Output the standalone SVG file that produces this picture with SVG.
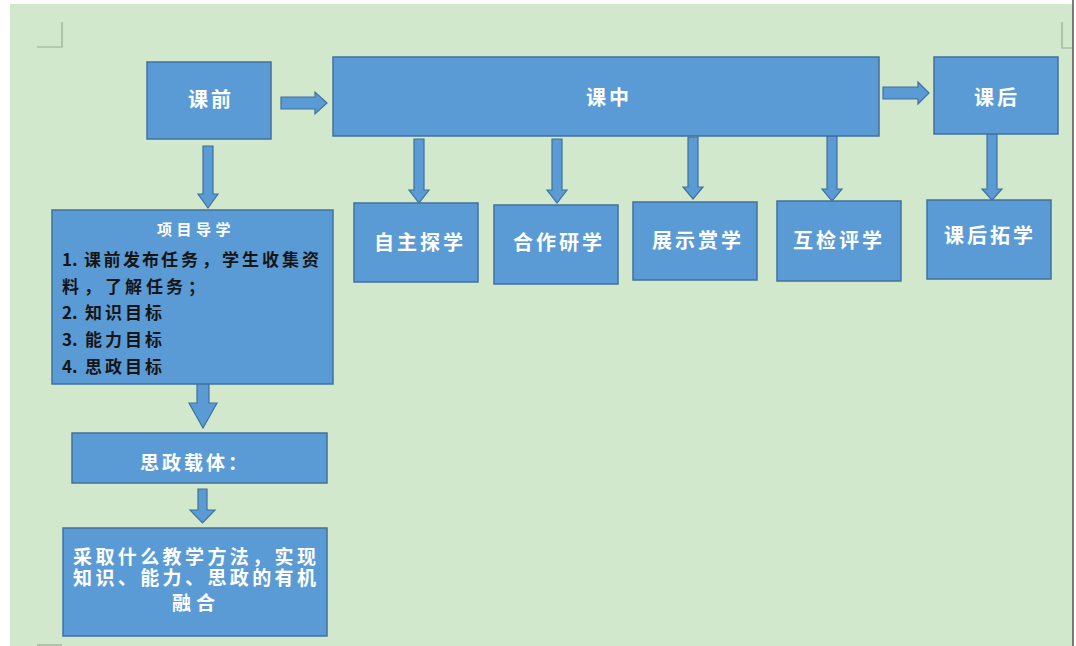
<svg xmlns="http://www.w3.org/2000/svg" width="1076" height="646" viewBox="0 0 1076 646">
<style>
.box{fill:#5b9bd5;stroke:#41719c;stroke-width:1.5}
.arr{fill:#5b9bd5;stroke:#41719c;stroke-width:1.2;stroke-linejoin:miter}
.lbl{font-family:"Noto Sans CJK SC","Noto Sans",sans-serif;font-weight:bold;fill:#ffffff;text-anchor:middle;font-size:20px;letter-spacing:3px}
.blk{font-family:"Noto Sans CJK SC","Noto Sans",sans-serif;font-weight:bold;fill:#151515;font-size:17px}
.wl{font-family:"Noto Sans CJK SC","Noto Sans",sans-serif;font-weight:bold;fill:#ffffff;font-size:19px}
.mark{stroke:#9aab98;stroke-width:1.2;fill:none}
</style>
<rect x="0" y="0" width="1076" height="646" fill="#ffffff"/>
<rect x="10" y="4" width="1063" height="642" fill="#d1e8cc"/>
<line x1="1073" y1="0" x2="1073" y2="646" stroke="#555" stroke-width="1.5"/>
<path class="mark" d="M37 47 H62 V22"/>
<path class="mark" d="M1062 22 V48 H1072"/>
<path class="mark" d="M37 645 H62"/>

<g id="connectors">
<polygon class="arr" points="281,97 315,97 315,92 327,103 315,114 315,109 281,109"/>
<polygon class="arr" points="883,87 918,87 918,82 929,93 918,104 918,99 883,99"/>
<polygon class="arr" points="203,146 213,146 213,194 218,194 208,208 198,194 203,194"/>
<polygon class="arr" points="414,139 424,139 424,190 429,190 419,203 409,190 414,190"/>
<polygon class="arr" points="552,139 562,139 562,190 567,190 557,203 547,190 552,190"/>
<polygon class="arr" points="688,137 698,137 698,187 703,187 693,199 683,187 688,187"/>
<polygon class="arr" points="827,136 837,136 837,189 842,189 832,201 822,189 827,189"/>
<polygon class="arr" points="987,134 997,134 997,189 1002,189 992,200 982,189 987,189"/>
<polygon class="arr" points="197,372 209,372 209,403 217,403 203,428 189,403 197,403"/>
<polygon class="arr" points="198,489 207,489 207,510 215,510 202.5,523 190,510 198,510"/>
</g>

<g id="kq">
<rect class="box" x="147" y="62" width="124" height="77"/>
<text class="lbl" x="211" y="107">课前</text>
</g>
<g id="kz">
<rect class="box" x="333" y="57" width="546" height="79"/>
<text class="lbl" x="609" y="105">课中</text>
</g>
<g id="kh">
<rect class="box" x="934" y="57" width="124" height="77"/>
<text class="lbl" x="997" y="105">课后</text>
</g>
<g id="zztx">
<rect class="box" x="354" y="203" width="124" height="79"/>
<text class="lbl" x="420" y="250">自主探学</text>
</g>
<g id="hzyx">
<rect class="box" x="494" y="205" width="124" height="79"/>
<text class="lbl" x="559" y="250">合作研学</text>
</g>
<g id="zssx">
<rect class="box" x="633" y="202" width="124" height="78"/>
<text class="lbl" x="698" y="248">展示赏学</text>
</g>
<g id="hjpx">
<rect class="box" x="777" y="201" width="124" height="80"/>
<text class="lbl" x="839" y="248">互检评学</text>
</g>
<g id="khtx">
<rect class="box" x="927" y="200" width="124" height="79"/>
<text class="lbl" x="990" y="243">课后拓学</text>
</g>
<g id="xmdx">
<rect class="box" x="52" y="210" width="281" height="174"/>
<text class="lbl" x="196" y="235" style="font-size:15px;letter-spacing:4.5px">项目导学</text>
<text class="blk" x="62 72 78 84 103.5 123 142 161 181 202 222 242 262 282 302" y="265.5">1. 课前发布任务，学生收集资</text>
<text class="blk" x="62 84 105 125 146 166 188" y="292.5">料，了解任务；</text>
<text class="blk" x="62 72 78 85 105 125 145" y="318.5">2. 知识目标</text>
<text class="blk" x="62 72 78 85 105 125 145" y="345.5">3. 能力目标</text>
<text class="blk" x="62 72 78 85 105 125 145" y="372.5">4. 思政目标</text>
</g>
<g id="szzt">
<rect class="box" x="72" y="433" width="255" height="50"/>
<text class="lbl" x="195" y="470" style="font-size:19px;letter-spacing:3px">思政载体：</text>
</g>
<g id="fangfa">
<rect class="box" x="63" y="528" width="264" height="108"/>
<text class="wl" x="73" y="564" textLength="243" lengthAdjust="spacing">采取什么教学方法，实现</text>
<text class="wl" x="73" y="585" textLength="243" lengthAdjust="spacing">知识、能力、思政的有机</text>
<text class="wl" x="172" y="610" textLength="43" lengthAdjust="spacing">融合</text>
</g>
</svg>
